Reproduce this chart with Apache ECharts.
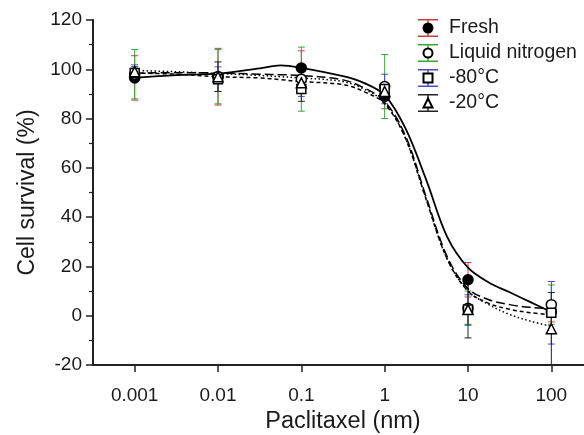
<!DOCTYPE html>
<html>
<head>
<meta charset="utf-8">
<script src="https://cdn.jsdelivr.net/npm/echarts@6/dist/echarts.min.js"></script>
<style>html,body{margin:0;padding:0;background:#fff}#c{width:584px;height:435px}</style>
</head>
<body>
<div id="c"></div>
<script>
// ---- data ----
const seriesNames = ['Fresh', 'Liquid nitrogen', '-80°C', '-20°C'];
const concentrations = [0.001, 0.01, 0.1, 1, 10, 100];
const xTickLabels = ['0.001', '0.01', '0.1', '1', '10', '100'];
const yTicks = [-20, 0, 20, 40, 60, 80, 100, 120];

const freshMean = [96.5, 97, 100.5, 89, 14.6, 1.5];
const freshErr  = [9, 11.5, 7, 5, 7, 4];
const lnMean    = [98, 97, 96, 93, 3, 4.5];
const lnErr     = [10, 11, 13, 13, 7, 8];
const m80Mean   = [98.5, 96, 92, 92, 2.5, 1.2];
const m80Err    = [3.3, 5, 3, 6, 6, 12.7];
const m20Mean   = [99, 97, 94.5, 91, 2.5, -5.3];
const m20Err    = [2, 6, 7.5, 3, 11.5, 14.7];

// fitted curves (x given as log10 of concentration)
const fitExp   = [-3, -2.5, -2, -1.5, -1.25, -1, -0.5, -0.25, 0, 0.25, 0.5, 0.75, 1, 1.25, 1.5, 1.75, 2];
const freshFit = [96.5, 97.6, 98.2, 100.4, 101.6, 100.6, 97.2, 94.5, 89.5, 76, 55, 32, 19.5, 13.5, 9.5, 5.5, 1.5];
const lnFit    = [98.5, 98.6, 98.5, 98, 97.8, 97.5, 95.7, 92.5, 87, 73, 48, 24, 11, 6.5, 4.5, 3.4, 2.8];
const m80Fit   = [98.5, 98, 97, 96.5, 95.8, 95, 93.8, 91, 86, 72, 47, 23, 10, 5, 2.6, 1.2, 0.4];
const m20Fit   = [99.5, 99, 98.3, 97.5, 97, 96.5, 95, 92, 86.5, 72, 47, 23, 10, 4.5, 0.5, -2.2, -4.3];

// ---- styles ----
const capColors = ['#c8403c', '#3aa63a', '#4a4ac8', '#222222'];
const lineTypes = ['solid', [9, 4], [4, 3], [1.5, 2.5]];
const symbols = ['circle', 'circle', 'rect', 'triangle'];
const symSizes = [10, 10, 9, 10];
const fills = ['#000', '#fff', '#fff', '#fff'];
const means = [freshMean, lnMean, m80Mean, m20Mean];
const errs = [freshErr, lnErr, m80Err, m20Err];
const fits = [freshFit, lnFit, m80Fit, m20Fit];
const FONT = 'Liberation Sans, Arial, sans-serif';
const TXT = '#1a1a1a';
const CAP_ICON = 'path://M0,0L20,0L20,1.6L0,1.6Z M9.3,0L10.7,0L10.7,18L9.3,18Z M0,16.4L20,16.4L20,18L0,18Z';

const lg = v => Math.log10(v);

function errRender(color) {
  return function (params, api) {
    const x = api.value(0), m = api.value(1), e = api.value(2);
    const t = api.coord([x, m + e]), b = api.coord([x, m - e]);
    const hw = 3.5;
    const st = { stroke: color, lineWidth: 1 };
    return {
      type: 'group', children: [
        { type: 'line', shape: { x1: t[0], y1: t[1], x2: b[0], y2: b[1] }, style: st },
        { type: 'line', shape: { x1: t[0] - hw, y1: t[1], x2: t[0] + hw, y2: t[1] }, style: st },
        { type: 'line', shape: { x1: b[0] - hw, y1: b[1], x2: b[0] + hw, y2: b[1] }, style: st }
      ]
    };
  };
}

const series = [];
seriesNames.forEach((name, i) => {
  series.push({
    name: 'e:' + name,
    type: 'custom',
    renderItem: errRender(capColors[i]),
    itemStyle: { color: capColors[i] },
    encode: { x: 0, y: 1 },
    data: concentrations.map((c, k) => [lg(c), means[i][k], errs[i][k]]),
    z: 2
  });
});
seriesNames.forEach((name, i) => {
  series.push({
    name: 'f:' + name,
    type: 'line',
    smooth: 0.35,
    showSymbol: false,
    lineStyle: { color: '#000', width: i === 0 ? 1.8 : 1.5, type: lineTypes[i] },
    data: fitExp.map((x, k) => [x, fits[i][k]]),
    z: 3,
    silent: true
  });
});
seriesNames.forEach((name, i) => {
  series.push({
    name: name,
    type: 'scatter',
    symbol: symbols[i],
    symbolSize: symSizes[i],
    itemStyle: { color: fills[i], borderColor: '#000', borderWidth: 1.5, opacity: 1 },
    data: concentrations.map((c, k) => [lg(c), means[i][k]]),
    z: 4
  });
});

const legendText = { fontFamily: FONT, fontSize: 19.5, color: TXT, lineHeight: 20 };
const option = {
  animation: false,
  backgroundColor: '#fff',
  grid: { left: 93, right: -9, top: 20, bottom: 70, containLabel: false, outerBoundsMode: 'none' },
  legend: [
    {
      orient: 'vertical', left: 418, top: 18, padding: 0, itemGap: 5,
      itemWidth: 32, itemHeight: 18, symbolKeepAspect: true,
      selectedMode: false,
      icon: CAP_ICON,
      data: seriesNames.map((n, i) => ({
        name: 'e:' + n, icon: CAP_ICON,
        itemStyle: { color: capColors[i], borderWidth: 0, opacity: 1 }
      })),
      formatter: n => n.slice(2),
      textStyle: legendText
    },
    {
      orient: 'vertical', left: 422.5, top: 18, padding: 0, itemGap: 5,
      itemWidth: 9, itemHeight: 9, selectedMode: false,
      data: seriesNames,
      textStyle: Object.assign({}, legendText, { color: 'rgba(0,0,0,0)' })
    }
  ],
  xAxis: {
    type: 'value',
    min: -3.5, max: 2.5,
    name: 'Paclitaxel (nm)',
    nameLocation: 'middle',
    nameGap: 43,
    nameTextStyle: { fontFamily: FONT, fontSize: 23.5, color: TXT },
    axisLine: { show: true, onZero: false, lineStyle: { color: '#222', width: 2 } },
    axisTick: { show: true, inside: false, length: 7, lineStyle: { color: '#222', width: 1.5 },
      customValues: concentrations.map(lg) },
    axisLabel: { fontFamily: FONT, fontSize: 19, color: TXT, margin: 21,
      customValues: concentrations.map(lg),
      formatter: v => xTickLabels[concentrations.findIndex(c => Math.abs(lg(c) - v) < 1e-6)] || '' },
    splitLine: { show: false }
  },
  yAxis: {
    type: 'value',
    min: -20, max: 120, interval: 20,
    name: 'Cell survival (%)',
    nameLocation: 'middle',
    nameGap: 53,
    nameTextStyle: { fontFamily: FONT, fontSize: 23, color: TXT },
    axisLine: { show: true, onZero: false, lineStyle: { color: '#222', width: 2 } },
    axisTick: { show: true, inside: false, length: 7, lineStyle: { color: '#222', width: 1.5 } },
    minorTick: { show: true, splitNumber: 2, length: 4, lineStyle: { color: '#222', width: 1.2 } },
    axisLabel: { fontFamily: FONT, fontSize: 19, color: TXT, margin: 11,
      formatter: v => yTicks.includes(v) ? String(v) : '' },
    splitLine: { show: false }
  },
  series: series
};

const chart = echarts.init(document.getElementById('c'), null, { renderer: 'canvas' });
chart.setOption(option);
</script>
</body>
</html>
